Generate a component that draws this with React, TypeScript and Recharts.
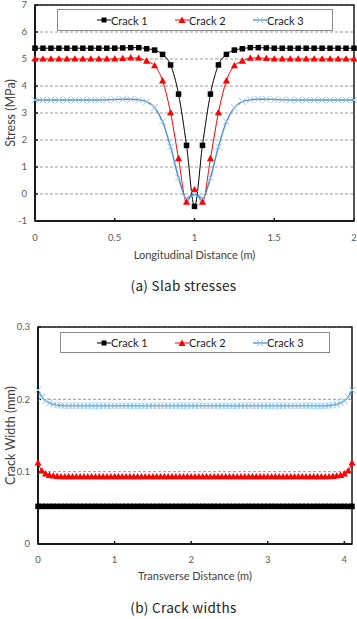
import React from 'react';
import { LineChart, Line, XAxis, YAxis, CartesianGrid, ReferenceArea, Legend } from 'recharts';

// ---- (a) Slab stresses along the slab ----
const longitudinalX = [
  0, 0.05, 0.1, 0.15, 0.2, 0.25, 0.3, 0.35, 0.4, 0.45,
  0.5, 0.55, 0.6, 0.65, 0.7, 0.75, 0.8, 0.85, 0.9, 0.95,
  1, 1.05, 1.1, 1.15, 1.2, 1.25, 1.3, 1.35, 1.4, 1.45,
  1.5, 1.55, 1.6, 1.65, 1.7, 1.75, 1.8, 1.85, 1.9, 1.95,
  2,
];
const stressCrack1 = [
  5.4, 5.4, 5.4, 5.4, 5.4, 5.4, 5.4, 5.4, 5.4, 5.4,
  5.4, 5.41, 5.42, 5.42, 5.38, 5.33, 5.17, 4.78, 3.7, 1.8,
  -0.46, 1.8, 3.7, 4.78, 5.17, 5.33, 5.38, 5.42, 5.42, 5.41,
  5.4, 5.4, 5.4, 5.4, 5.4, 5.4, 5.4, 5.4, 5.4, 5.4,
  5.4,
];
const stressCrack2 = [
  5.0, 5.0, 5.0, 5.0, 5.0, 5.0, 5.0, 5.0, 5.0, 5.0,
  5.0, 5.02, 5.04, 5.03, 4.92, 4.75, 4.19, 3.01, 1.31, -0.3,
  0.16, -0.3, 1.31, 3.01, 4.19, 4.75, 4.92, 5.03, 5.04, 5.02,
  5.0, 5.0, 5.0, 5.0, 5.0, 5.0, 5.0, 5.0, 5.0, 5.0,
  5.0,
];
const stressCrack3 = [
  3.48, 3.48, 3.48, 3.48, 3.48, 3.48, 3.48, 3.48, 3.48, 3.49,
  3.5, 3.51, 3.51, 3.49, 3.42, 3.2, 2.68, 1.75, 0.6, -0.16,
  -0.02, -0.16, 0.6, 1.75, 2.68, 3.2, 3.42, 3.49, 3.51, 3.51,
  3.5, 3.49, 3.48, 3.48, 3.48, 3.48, 3.48, 3.48, 3.48, 3.48,
  3.48,
];
const stressTicksX = [0, 0.5, 1, 1.5, 2];
const stressTicksY = [-1, 0, 1, 2, 3, 4, 5, 6, 7];

// ---- (b) Crack widths across the slab ----
const transverseX = [
  0, 0.05, 0.1, 0.15, 0.2, 0.25, 0.3, 0.35, 0.4, 0.45,
  0.5, 0.55, 0.6, 0.65, 0.7, 0.75, 0.8, 0.85, 0.9, 0.95,
  1, 1.05, 1.1, 1.15, 1.2, 1.25, 1.3, 1.35, 1.4, 1.45,
  1.5, 1.55, 1.6, 1.65, 1.7, 1.75, 1.8, 1.85, 1.9, 1.95,
  2, 2.05, 2.1, 2.15, 2.2, 2.25, 2.3, 2.35, 2.4, 2.45,
  2.5, 2.55, 2.6, 2.65, 2.7, 2.75, 2.8, 2.85, 2.9, 2.95,
  3, 3.05, 3.1, 3.15, 3.2, 3.25, 3.3, 3.35, 3.4, 3.45,
  3.5, 3.55, 3.6, 3.65, 3.7, 3.75, 3.8, 3.85, 3.9, 3.95,
  4, 4.05, 4.1,
];
const widthCrack1 = [
  0.052, 0.052, 0.052, 0.052, 0.052, 0.052, 0.052, 0.052, 0.052, 0.052,
  0.052, 0.052, 0.052, 0.052, 0.052, 0.052, 0.052, 0.052, 0.052, 0.052,
  0.052, 0.052, 0.052, 0.052, 0.052, 0.052, 0.052, 0.052, 0.052, 0.052,
  0.052, 0.052, 0.052, 0.052, 0.052, 0.052, 0.052, 0.052, 0.052, 0.052,
  0.052, 0.052, 0.052, 0.052, 0.052, 0.052, 0.052, 0.052, 0.052, 0.052,
  0.052, 0.052, 0.052, 0.052, 0.052, 0.052, 0.052, 0.052, 0.052, 0.052,
  0.052, 0.052, 0.052, 0.052, 0.052, 0.052, 0.052, 0.052, 0.052, 0.052,
  0.052, 0.052, 0.052, 0.052, 0.052, 0.052, 0.052, 0.052, 0.052, 0.052,
  0.052, 0.052, 0.052,
];
const widthCrack2 = [
  0.112, 0.101, 0.097, 0.095, 0.094, 0.0935, 0.093, 0.093, 0.093, 0.093,
  0.093, 0.093, 0.093, 0.093, 0.093, 0.093, 0.093, 0.093, 0.093, 0.093,
  0.093, 0.093, 0.093, 0.093, 0.093, 0.093, 0.093, 0.093, 0.093, 0.093,
  0.093, 0.093, 0.093, 0.093, 0.093, 0.093, 0.093, 0.093, 0.093, 0.093,
  0.093, 0.093, 0.093, 0.093, 0.093, 0.093, 0.093, 0.093, 0.093, 0.093,
  0.093, 0.093, 0.093, 0.093, 0.093, 0.093, 0.093, 0.093, 0.093, 0.093,
  0.093, 0.093, 0.093, 0.093, 0.093, 0.093, 0.093, 0.093, 0.093, 0.093,
  0.093, 0.093, 0.093, 0.093, 0.093, 0.093, 0.093, 0.0935, 0.094, 0.095,
  0.097, 0.101, 0.112,
];
const widthCrack3 = [
  0.213, 0.203, 0.198, 0.195, 0.193, 0.192, 0.1915, 0.191, 0.191, 0.191,
  0.191, 0.191, 0.191, 0.191, 0.191, 0.191, 0.191, 0.191, 0.191, 0.191,
  0.191, 0.191, 0.191, 0.191, 0.191, 0.191, 0.191, 0.191, 0.191, 0.191,
  0.191, 0.191, 0.191, 0.191, 0.191, 0.191, 0.191, 0.191, 0.191, 0.191,
  0.191, 0.191, 0.191, 0.191, 0.191, 0.191, 0.191, 0.191, 0.191, 0.191,
  0.191, 0.191, 0.191, 0.191, 0.191, 0.191, 0.191, 0.191, 0.191, 0.191,
  0.191, 0.191, 0.191, 0.191, 0.191, 0.191, 0.191, 0.191, 0.191, 0.191,
  0.191, 0.191, 0.191, 0.191, 0.191, 0.191, 0.1915, 0.192, 0.193, 0.195,
  0.198, 0.203, 0.213,
];
const widthTicksX = [0, 1, 2, 3, 4];
const widthTicksY = [0, 0.1, 0.2, 0.3];

const seriesNames = ['Crack 1', 'Crack 2', 'Crack 3'];

const slabRows = longitudinalX.map((x, i) => ({
  x,
  c1: stressCrack1[i],
  c2: stressCrack2[i],
  c3: stressCrack3[i],
}));
const widthRows = transverseX.map((x, i) => ({
  x,
  c1: widthCrack1[i],
  c2: widthCrack2[i],
  c3: widthCrack3[i],
}));

const FONT = 'Lato, "Open Sans", sans-serif';
const BLUE_LINE = '#4a8fd2';
const BLUE_MARK = '#8ec7f0';

// ---- marker shapes ----
const squareDot = (p: any) => {
  if (p.cx == null || p.cy == null) return <g key={`s${p.index}`} />;
  return <rect key={`s${p.index}`} x={p.cx - 2.75} y={p.cy - 2.75} width={5.5} height={5.5} fill="#000" />;
};
const triangleDot = (p: any) => {
  if (p.cx == null || p.cy == null) return <g key={`t${p.index}`} />;
  const { cx, cy } = p;
  return <path key={`t${p.index}`} d={`M${cx},${cy - 3.8}L${cx + 3.6},${cy + 2.6}L${cx - 3.6},${cy + 2.6}Z`} fill="#ff0000" />;
};
const crossDot = (p: any) => {
  if (p.cx == null || p.cy == null) return <g key={`x${p.index}`} />;
  const { cx, cy } = p;
  const r = 3.3;
  return (
    <path
      key={`x${p.index}`}
      d={`M${cx - r},${cy - r}L${cx + r},${cy + r}M${cx - r},${cy + r}L${cx + r},${cy - r}`}
      stroke={BLUE_MARK}
      strokeWidth={1}
      fill="none"
    />
  );
};

function LegendIcon({ k }: { k: string }) {
  const color = k === 'c1' ? '#000' : k === 'c2' ? '#ff0000' : BLUE_LINE;
  return (
    <svg width={14} height={10} style={{ display: 'block' }}>
      <line x1={0} y1={5} x2={14} y2={5} stroke={color} strokeWidth={k === 'c3' ? 1.3 : 1} />
      {k === 'c1' && <rect x={4.5} y={2.5} width={5} height={5} fill="#000" />}
      {k === 'c2' && <path d="M7,1.5L10.5,8L3.5,8Z" fill="#ff0000" />}
      {k === 'c3' && <path d="M4,2L10,8M4,8L10,2" stroke={BLUE_MARK} strokeWidth={1} />}
    </svg>
  );
}

const makeLegend = (offsets: number[]) => (props: any) => {
  const payload = props.payload || [];
  return (
    <div
      style={{
        position: 'relative',
        width: '100%',
        height: '100%',
        border: '1px solid #8a8a8a',
        background: '#fff',
        boxSizing: 'border-box',
        fontFamily: FONT,
        fontSize: 11,
        color: '#222',
      }}
    >
      {payload.map((entry: any, i: number) => (
        <div
          key={entry.value}
          style={{
            position: 'absolute',
            left: offsets[i],
            top: 0,
            height: '100%',
            display: 'flex',
            alignItems: 'center',
            whiteSpace: 'nowrap',
          }}
        >
          <LegendIcon k={entry.dataKey} />
          <span>{entry.value}</span>
        </div>
      ))}
    </div>
  );
};

const yTitle = (text: string) => (props: any) => {
  const vb = props.viewBox || { x: 0, y: 0, width: 0, height: 0 };
  const cx = vb.x + 10;
  const cy = vb.y + vb.height / 2;
  return (
    <text
      x={cx}
      y={cy}
      transform={`rotate(-90 ${cx} ${cy})`}
      textAnchor="middle"
      dominantBaseline="central"
      fontFamily={FONT}
      fontSize={12.5}
      fill="#404040"
    >
      {text}
    </text>
  );
};

const tickStyle = { fontFamily: FONT, fontSize: 9.5, fill: '#595959' };
const captionStyle: React.CSSProperties = {
  position: 'absolute',
  left: 0,
  width: 367,
  textAlign: 'center',
  fontFamily: '"Noto Sans CJK KR", "Noto Sans", sans-serif',
  fontSize: 13.5,
  color: '#222',
  letterSpacing: 0.3,
};

export default function App() {
  return (
    <div style={{ position: 'absolute', left: 0, top: 0, width: 357, height: 619, background: '#fff' }}>
      <div style={{ position: 'absolute', left: 0, top: 0 }}>
        <LineChart width={357} height={300} data={slabRows} margin={{ top: 5, right: 3, left: 0, bottom: 59 }}>
          <CartesianGrid vertical={false} stroke="#9a9a9a" strokeDasharray="3 2" />
          <XAxis
            dataKey="x"
            type="number"
            domain={[0, 2]}
            ticks={stressTicksX}
            height={20}
            tickSize={-3}
            tickMargin={16}
            tick={tickStyle}
            axisLine={{ stroke: '#1a1a1a', strokeWidth: 2 }}
            tickLine={{ stroke: '#1a1a1a', strokeWidth: 1.5 }}
            label={{ value: 'Longitudinal Distance (m)', position: 'bottom', offset: 10, fontFamily: FONT, fontSize: 11, fill: '#404040' }}
          />
          <YAxis
            type="number"
            domain={[-1, 7]}
            ticks={stressTicksY}
            width={35}
            tickSize={-3}
            tickMargin={11}
            tick={tickStyle}
            axisLine={{ stroke: '#1a1a1a', strokeWidth: 2 }}
            tickLine={{ stroke: '#1a1a1a', strokeWidth: 1.5 }}
            label={{ content: yTitle('Stress (MPa)') }}
          />
          <ReferenceArea x1={0} x2={2} y1={-1} y2={7} fill="none" stroke="#1a1a1a" strokeWidth={1.5} />
          <Legend
            verticalAlign="middle"
            align="center"
            layout="horizontal"
            wrapperStyle={{ left: 57, top: 9, width: 276, height: 22 }}
            content={makeLegend([39, 117, 195])}
          />
          <Line dataKey="c1" name={seriesNames[0]} type="monotone" stroke="#000" strokeWidth={1} dot={squareDot} isAnimationActive={false} />
          <Line dataKey="c2" name={seriesNames[1]} type="monotone" stroke="#ff0000" strokeWidth={1} dot={triangleDot} isAnimationActive={false} />
          <Line dataKey="c3" name={seriesNames[2]} type="monotone" stroke={BLUE_LINE} strokeWidth={1.4} dot={crossDot} isAnimationActive={false} />
        </LineChart>
      </div>
      <div style={{ ...captionStyle, top: 275 }}>(a) Slab stresses</div>

      <div style={{ position: 'absolute', left: 0, top: 310 }}>
        <LineChart width={357} height={290} data={widthRows} margin={{ top: 17, right: 5, left: 0, bottom: 36 }}>
          <CartesianGrid vertical={false} stroke="#9a9a9a" strokeDasharray="3 2" />
          <XAxis
            dataKey="x"
            type="number"
            domain={[0, 4.1]}
            ticks={widthTicksX}
            height={20}
            tickSize={-3}
            tickMargin={15}
            tick={tickStyle}
            axisLine={{ stroke: '#1a1a1a', strokeWidth: 2 }}
            tickLine={{ stroke: '#1a1a1a', strokeWidth: 1.5 }}
            label={{ value: 'Transverse Distance (m)', position: 'bottom', offset: 8, fontFamily: FONT, fontSize: 11, fill: '#404040' }}
          />
          <YAxis
            type="number"
            domain={[0, 0.3]}
            ticks={widthTicksY}
            width={38}
            tickSize={-3}
            tickMargin={11}
            tick={tickStyle}
            axisLine={{ stroke: '#1a1a1a', strokeWidth: 2 }}
            tickLine={{ stroke: '#1a1a1a', strokeWidth: 1.5 }}
            label={{ content: yTitle('Crack Width (mm)') }}
          />
          <ReferenceArea x1={0} x2={4.1} y1={0} y2={0.3} fill="none" stroke="#1a1a1a" strokeWidth={1.5} />
          <Legend
            verticalAlign="middle"
            align="center"
            layout="horizontal"
            wrapperStyle={{ left: 60, top: 22, width: 270, height: 21 }}
            content={makeLegend([36, 114, 192])}
          />
          <Line dataKey="c1" name={seriesNames[0]} type="monotone" stroke="#000" strokeWidth={1} dot={squareDot} isAnimationActive={false} />
          <Line dataKey="c2" name={seriesNames[1]} type="monotone" stroke="#ff0000" strokeWidth={1} dot={triangleDot} isAnimationActive={false} />
          <Line dataKey="c3" name={seriesNames[2]} type="monotone" stroke={BLUE_LINE} strokeWidth={1.4} dot={crossDot} isAnimationActive={false} />
        </LineChart>
      </div>
      <div style={{ ...captionStyle, top: 597 }}>(b) Crack widths</div>
    </div>
  );
}
